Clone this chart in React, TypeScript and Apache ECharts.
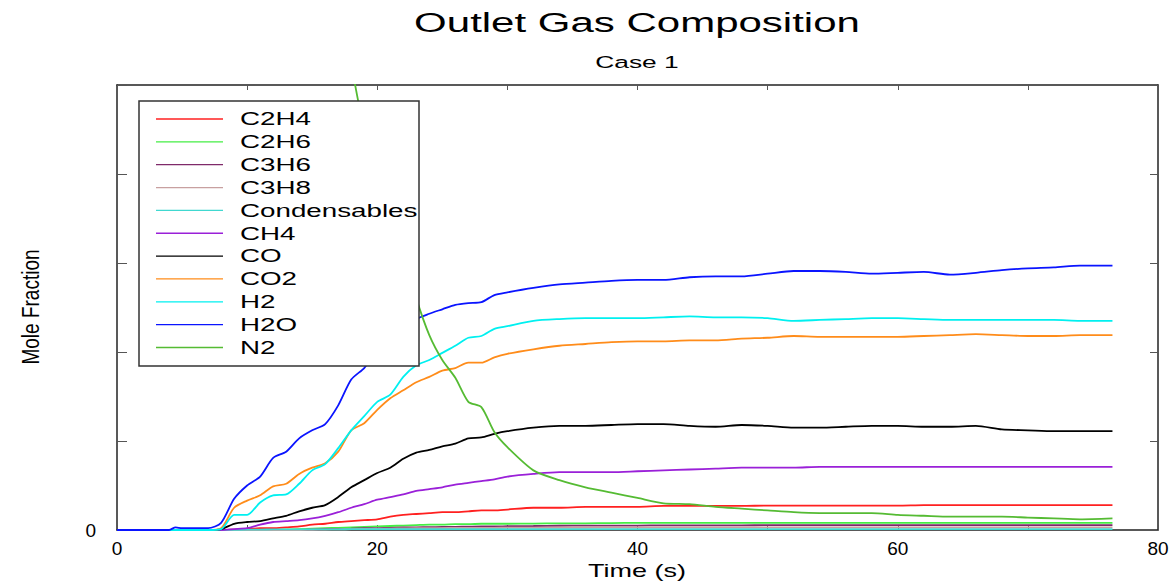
import React, { useEffect, useRef } from "react";
import * as echarts from "echarts";

const times = [0, 4, 4.5, 5, 6, 7, 8, 9, 10, 11, 12, 13, 14, 15, 16, 17, 18, 19, 20, 21, 22, 23, 24, 25, 26, 27, 28, 29, 30, 32, 34, 36, 38, 40, 42, 44, 46, 48, 50, 52, 54, 56, 58, 60, 62, 64, 66, 68, 70, 72, 74, 76.5];

const c2h4 = [0, 0, 0, 0, 0, 0, 0, 0.0005, 0.001, 0.002, 0.002, 0.003, 0.004, 0.006, 0.007, 0.009, 0.01, 0.011, 0.012, 0.015, 0.017, 0.018, 0.019, 0.02, 0.02, 0.021, 0.022, 0.022, 0.023, 0.025, 0.025, 0.026, 0.026, 0.026, 0.027, 0.027, 0.027, 0.027, 0.0275, 0.0275, 0.0275, 0.0275, 0.0275, 0.0275, 0.028, 0.028, 0.028, 0.028, 0.028, 0.028, 0.028, 0.028];
const c2h6 = [0, 0, 0, 0, 0, 0, 0, 0, 0, 0, 0, 0.0005, 0.001, 0.0015, 0.002, 0.0025, 0.003, 0.0035, 0.004, 0.0045, 0.005, 0.0055, 0.006, 0.006, 0.0065, 0.0065, 0.007, 0.007, 0.007, 0.0072, 0.0075, 0.0075, 0.0078, 0.008, 0.008, 0.008, 0.008, 0.008, 0.008, 0.008, 0.008, 0.008, 0.008, 0.008, 0.008, 0.008, 0.008, 0.008, 0.008, 0.008, 0.008, 0.008];
const c3h6 = [0, 0, 0, 0, 0, 0, 0, 0, 0, 0, 0, 0, 0, 0.0005, 0.001, 0.0012, 0.0015, 0.002, 0.0022, 0.0025, 0.0028, 0.003, 0.0032, 0.0034, 0.0036, 0.0038, 0.004, 0.004, 0.0042, 0.0045, 0.0048, 0.005, 0.005, 0.005, 0.0052, 0.0052, 0.0053, 0.0053, 0.0054, 0.0054, 0.0055, 0.0055, 0.0055, 0.0055, 0.0055, 0.0055, 0.0055, 0.0055, 0.0055, 0.0055, 0.0055, 0.0055];
const c3h8 = [0, 0, 0, 0, 0, 0, 0, 0, 0, 0, 0, 0, 0, 0.0003, 0.0005, 0.0007, 0.001, 0.0012, 0.0014, 0.0016, 0.0018, 0.002, 0.002, 0.0022, 0.0023, 0.0024, 0.0025, 0.0025, 0.0026, 0.0027, 0.0028, 0.0028, 0.0029, 0.003, 0.003, 0.003, 0.003, 0.003, 0.003, 0.003, 0.003, 0.003, 0.003, 0.003, 0.003, 0.003, 0.003, 0.003, 0.003, 0.003, 0.003, 0.003];
const condensables = [0, 0, 0, 0, 0, 0, 0, 0.0002, 0.0004, 0.0005, 0.0006, 0.0006, 0.0007, 0.0007, 0.0008, 0.0008, 0.0009, 0.0009, 0.001, 0.001, 0.001, 0.001, 0.001, 0.001, 0.001, 0.001, 0.001, 0.001, 0.001, 0.001, 0.001, 0.001, 0.001, 0.001, 0.001, 0.001, 0.001, 0.001, 0.001, 0.001, 0.001, 0.001, 0.001, 0.001, 0.001, 0.001, 0.001, 0.001, 0.001, 0.001, 0.001, 0.001];
const ch4 = [0, 0, 0, 0, 0, 0, 0, 0.001, 0.002, 0.006, 0.009, 0.01, 0.011, 0.013, 0.016, 0.02, 0.025, 0.029, 0.034, 0.037, 0.04, 0.044, 0.046, 0.048, 0.051, 0.053, 0.055, 0.057, 0.06, 0.063, 0.065, 0.065, 0.065, 0.066, 0.067, 0.068, 0.069, 0.07, 0.07, 0.07, 0.071, 0.071, 0.071, 0.071, 0.071, 0.071, 0.071, 0.071, 0.071, 0.071, 0.071, 0.071];
const co = [0, 0, 0, 0, 0, 0, 0.001, 0.007, 0.009, 0.01, 0.013, 0.016, 0.021, 0.025, 0.028, 0.037, 0.048, 0.056, 0.064, 0.07, 0.08, 0.087, 0.09, 0.094, 0.097, 0.103, 0.104, 0.108, 0.111, 0.115, 0.117, 0.117, 0.118, 0.119, 0.119, 0.117, 0.116, 0.118, 0.117, 0.115, 0.115, 0.116, 0.117, 0.117, 0.116, 0.116, 0.117, 0.113, 0.112, 0.111, 0.111, 0.111];
const co2 = [0, 0, 0, 0, 0, 0, 0.002, 0.025, 0.033, 0.039, 0.049, 0.052, 0.063, 0.07, 0.075, 0.088, 0.112, 0.12, 0.135, 0.148, 0.157, 0.166, 0.172, 0.179, 0.182, 0.188, 0.188, 0.194, 0.198, 0.203, 0.207, 0.209, 0.211, 0.212, 0.212, 0.213, 0.213, 0.215, 0.216, 0.218, 0.217, 0.217, 0.217, 0.217, 0.218, 0.219, 0.22, 0.219, 0.218, 0.218, 0.219, 0.219];
const h2 = [0, 0, 0, 0, 0, 0, 0.001, 0.017, 0.017, 0.031, 0.039, 0.04, 0.052, 0.067, 0.074, 0.092, 0.112, 0.128, 0.144, 0.152, 0.172, 0.185, 0.191, 0.199, 0.207, 0.216, 0.218, 0.226, 0.229, 0.235, 0.237, 0.238, 0.238, 0.238, 0.239, 0.24, 0.239, 0.239, 0.238, 0.235, 0.236, 0.237, 0.238, 0.238, 0.237, 0.236, 0.236, 0.236, 0.236, 0.236, 0.235, 0.235];
const h2o = [0, 0, 0.003, 0.002, 0.002, 0.002, 0.008, 0.035, 0.05, 0.06, 0.081, 0.088, 0.103, 0.112, 0.119, 0.14, 0.169, 0.182, 0.2, 0.213, 0.225, 0.237, 0.243, 0.248, 0.253, 0.255, 0.256, 0.264, 0.267, 0.272, 0.276, 0.278, 0.28, 0.281, 0.281, 0.284, 0.285, 0.285, 0.288, 0.291, 0.291, 0.29, 0.288, 0.289, 0.29, 0.287, 0.289, 0.292, 0.294, 0.295, 0.297, 0.297];
const n2 = [1.0, 1.0, 0.997, 0.998, 0.998, 0.998, 0.988, 0.915, 0.888, 0.852, 0.808, 0.795, 0.749, 0.706, 0.681, 0.614, 0.524, 0.45, 0.4, 0.36, 0.31, 0.26, 0.219, 0.191, 0.171, 0.144, 0.138, 0.11, 0.093, 0.067, 0.056, 0.048, 0.042, 0.036, 0.03, 0.029, 0.026, 0.024, 0.022, 0.02, 0.019, 0.019, 0.019, 0.017, 0.016, 0.015, 0.015, 0.015, 0.014, 0.013, 0.012, 0.013];

const seriesNames = ["C2H4", "C2H6", "C3H6", "C3H8", "Condensables", "CH4", "CO", "CO2", "H2", "H2O", "N2"];
const seriesValues = [c2h4, c2h6, c3h6, c3h8, condensables, ch4, co, co2, h2, h2o, n2];
const seriesColors = ["#ff2020", "#44ee44", "#7f2a6a", "#c8a0a0", "#40d8d0", "#9a20d8", "#000000", "#ff8c1a", "#00f0f0", "#0a14ff", "#55bb33"];

const FONT = '"Liberation Sans", Arial, sans-serif';

export default function App() {
  const ref = useRef<HTMLDivElement>(null);
  useEffect(() => {
    if (!ref.current) return;
    const chart = echarts.init(ref.current, undefined, { renderer: "svg" });

    const legendItems: any[] = [];
    legendItems.push({
      type: "rect",
      z: 100,
      shape: { x: 139, y: 101, width: 280, height: 265 },
      style: { fill: "#ffffff", stroke: "#333333", lineWidth: 1.5 },
    });
    seriesNames.forEach((name, i) => {
      const yy = 119 + i * 22.85;
      legendItems.push({
        type: "line",
        z: 101,
        shape: { x1: 156, y1: yy, x2: 223, y2: yy },
        style: { stroke: seriesColors[i], lineWidth: 1.3 },
      });
      legendItems.push({
        type: "text",
        z: 101,
        x: 240,
        y: yy,
        scaleX: 1.5,
        style: {
          text: name,
          font: `18.5px ${FONT}`,
          fill: "#000",
          textAlign: "left",
          textVerticalAlign: "middle",
          align: "left",
          verticalAlign: "middle",
        },
      });
    });

    const axisLineStyle = { color: "#222", width: 1.5 };
    const tickStyle = { color: "#555", width: 1 };

    chart.setOption({
      animation: false,
      backgroundColor: "#ffffff",
      grid: { left: 117, right: 18, top: 85, bottom: 53, containLabel: false },
      xAxis: [
        {
          type: "value",
          min: 0,
          max: 80,
          interval: 10,
          position: "bottom",
          axisLine: { show: true, onZero: false, lineStyle: axisLineStyle },
          axisTick: { show: true, inside: true, length: 5, lineStyle: tickStyle },
          splitLine: { show: false },
          axisLabel: {
            show: true,
            fontSize: 19,
            fontFamily: FONT,
            color: "#000",
            margin: 9,
            formatter: (v: number) => (v % 20 === 0 ? String(v) : ""),
          },
        },
        {
          type: "value",
          min: 0,
          max: 80,
          interval: 10,
          position: "top",
          axisLine: { show: true, onZero: false, lineStyle: axisLineStyle },
          axisTick: { show: true, inside: true, length: 5, lineStyle: tickStyle },
          splitLine: { show: false },
          axisLabel: { show: false },
        },
      ],
      yAxis: [
        {
          type: "value",
          min: 0,
          max: 0.5,
          interval: 0.1,
          position: "left",
          axisLine: { show: true, onZero: false, lineStyle: axisLineStyle },
          axisTick: { show: true, inside: true, length: 10, lineStyle: tickStyle },
          splitLine: { show: false },
          axisLabel: {
            show: true,
            fontSize: 19,
            fontFamily: FONT,
            color: "#000",
            margin: 21,
            formatter: (v: number) => (v === 0 ? "0" : ""),
          },
        },
        {
          type: "value",
          min: 0,
          max: 0.5,
          interval: 0.1,
          position: "right",
          axisLine: { show: true, onZero: false, lineStyle: axisLineStyle },
          axisTick: { show: true, inside: true, length: 8, lineStyle: tickStyle },
          splitLine: { show: false },
          axisLabel: { show: false },
        },
      ],
      series: seriesNames.map((name, i) => ({
        name,
        type: "line",
        xAxisIndex: 0,
        yAxisIndex: 0,
        showSymbol: false,
        symbol: "none",
        clip: true,
        smooth: 0.25,
        lineStyle: { color: seriesColors[i], width: 1.8 },
        itemStyle: { color: seriesColors[i] },
        data: times.map((t, k) => [t, seriesValues[i][k]]),
      })),
      graphic: [
        {
          type: "text",
          x: 637,
          y: 23,
          scaleX: 1.5,
          style: {
            text: "Outlet Gas Composition",
            font: `28px ${FONT}`,
            fill: "#000",
            textAlign: "center",
            textVerticalAlign: "middle",
            align: "center",
            verticalAlign: "middle",
          },
        },
        {
          type: "text",
          x: 637,
          y: 62,
          scaleX: 1.55,
          style: {
            text: "Case 1",
            font: `17px ${FONT}`,
            fill: "#000",
            textAlign: "center",
            textVerticalAlign: "middle",
            align: "center",
            verticalAlign: "middle",
          },
        },
        {
          type: "text",
          x: 637,
          y: 571,
          scaleX: 1.5,
          style: {
            text: "Time (s)",
            font: `18px ${FONT}`,
            fill: "#000",
            textAlign: "center",
            textVerticalAlign: "middle",
            align: "center",
            verticalAlign: "middle",
          },
        },
        {
          type: "text",
          x: 31,
          y: 307,
          rotation: Math.PI / 2,
          scaleY: 1.25,
          style: {
            text: "Mole Fraction",
            font: `19px ${FONT}`,
            fill: "#000",
            textAlign: "center",
            textVerticalAlign: "middle",
            align: "center",
            verticalAlign: "middle",
          },
        },
        {
          type: "group",
          z: 100,
          children: legendItems,
        },
      ],
    });
    return () => chart.dispose();
  }, []);
  return (
    <div
      ref={ref}
      style={{ position: "fixed", left: 0, top: 0, width: 1176, height: 583, background: "#fff" }}
    />
  );
}
